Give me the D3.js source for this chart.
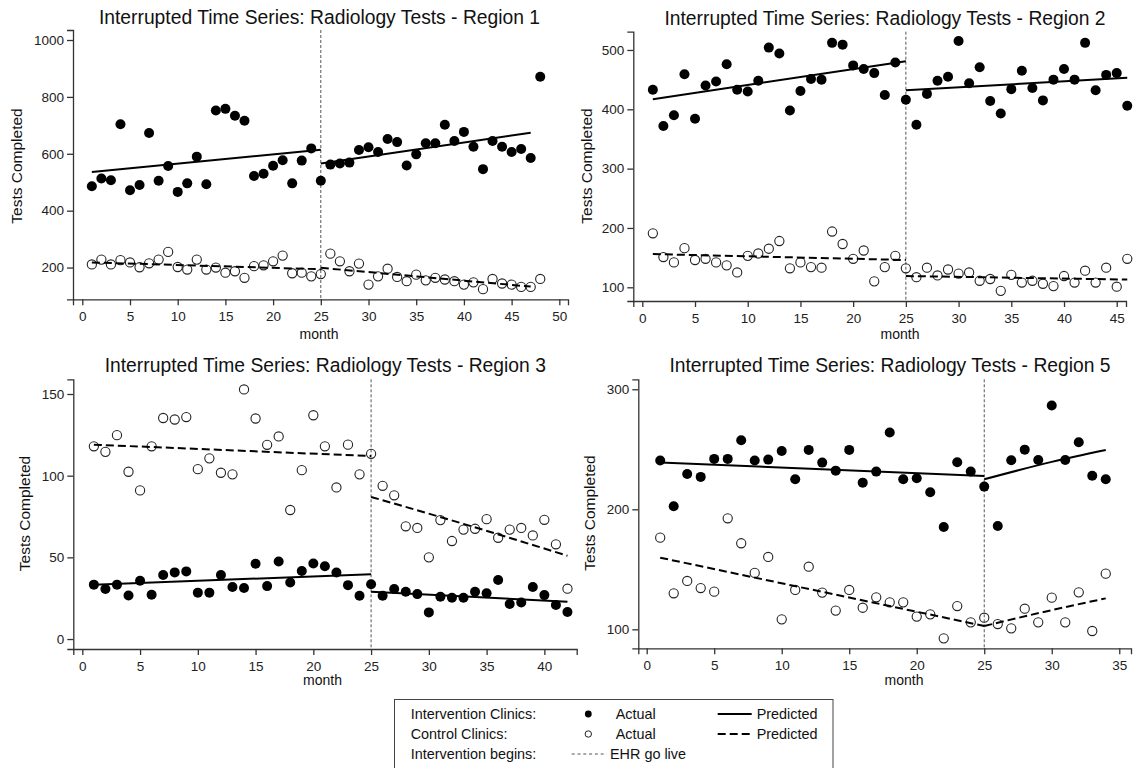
<!DOCTYPE html>
<html>
<head>
<meta charset="utf-8">
<script src="https://cdn.jsdelivr.net/npm/d3@7"></script>
<style>
  html, body { margin: 0; padding: 0; background: #fff; }
  svg { display: block; font-family: "Liberation Sans", Arial, sans-serif; }
</style>
</head>
<body>
<svg id="chart" width="1135" height="768"></svg>
<script>
// ---------------- DATA ----------------
const interventionMonth = 25;

// Region 1 (months 1..48)
const r1Intervention = [486,513,507,704,472,490,673,505,557,466,496,590,493,752,758,734,716,522,530,558,577,496,576,619,505,562,566,569,613,623,606,652,641,559,598,637,637,702,645,677,625,546,645,625,606,617,585,871];
const r1Control = [211,228,211,226,218,201,215,228,255,202,193,228,193,200,182,187,164,205,208,222,242,180,182,169,177,249,222,187,214,140,169,196,167,152,175,155,164,158,152,140,148,124,160,144,140,132,132,160];
const r1PredIntervention = [[[1,536],[25,614]], [[25,566],[47,674]]];
const r1PredControl = [[[1,218],[25,194]], [[25,199],[47,133]]];
const r1XTicks = [0,5,10,15,20,25,30,35,40,45,50];
const r1YTicks = [200,400,600,800,1000];

// Region 2 (months 1..46)
const r2Intervention = [433,372,390,459,384,440,447,476,433,430,448,504,494,398,431,451,450,512,509,474,468,461,424,479,416,374,426,448,455,515,444,471,414,393,434,465,436,415,450,468,450,512,432,458,461,406];
const r2Control = [191,151,142,166,146,148,142,137,125,153,157,165,178,132,142,134,133,194,173,148,162,110,134,153,132,117,133,120,130,123,125,111,114,94,121,108,111,106,102,119,108,128,108,133,101,148];
const r2PredIntervention = [[[1,417],[25,481]], [[25,432],[46,453]]];
const r2PredControl = [[[1,156],[25,146]], [[25,119],[46,113]]];
const r2XTicks = [0,5,10,15,20,25,30,35,40,45];
const r2YTicks = [100,200,300,400,500];

// Region 3 (months 1..42)
const r3Intervention = [33.3,30.6,33.3,26.7,35.7,27.1,39.2,40.8,41.4,28.4,28.4,39.2,31.8,31.2,46.1,32.4,47.5,34.6,41.6,46.2,44.6,40.7,33,26.5,33.5,26.5,30.6,29,27.5,16.3,25.9,25.3,25.3,29,28,36.1,21.4,22.4,31.8,26.9,20.8,16.5];
const r3Control = [118,114.6,124.8,102.4,91,118,135.3,134.4,135.9,104,110.6,101.8,100.8,152.8,135,118.9,124,79,103.4,137,118,92.8,119,100.8,113.4,93.8,88,69,68,50,72.8,60,67,67.5,73.4,62,67,68,63.4,73,58,30.8];
const r3PredIntervention = [[[1,33.3],[25,39.6]], [[25,29],[42,22.8]]];
const r3PredControl = [[[1,119],[25,112]], [[25,87],[33,70.5],[42,51]]];
const r3XTicks = [0,5,10,15,20,25,30,35,40];
const r3YTicks = [0,50,100,150];

// Region 5 (months 1..34)
const r5Intervention = [240.6,202.5,229.4,227,242,242,257.5,240.6,241.4,248.6,225,249.5,238.9,232.2,249.5,222.2,231.4,264,225,225.8,214.2,185.3,239.2,231.4,218.9,186.1,240.8,249.7,241.1,286.4,241.1,255.8,228,225];
const r5Control = [176.4,130,140.3,134.4,131.4,192.5,171.7,147,160.3,108.3,132.8,152.2,130.6,115.6,132.8,118,126.7,122.5,122.5,110.6,112.5,92.5,119.4,105.8,109.7,104.4,100.8,117.2,105.8,126.4,105.8,130.8,98.6,146.4];
const r5PredIntervention = [[[1,238.9],[25,227.8]], [[25,225],[30,239.5],[34,249.4]]];
const r5PredControl = [[[1,159.7],[25,102.8]], [[25,102.8],[30,116],[34,125.8]]];
const r5XTicks = [0,5,10,15,20,25,30,35];
const r5YTicks = [100,200,300];

const titles = [
  "Interrupted Time Series: Radiology Tests - Region 1",
  "Interrupted Time Series: Radiology Tests - Region 2",
  "Interrupted Time Series: Radiology Tests - Region 3",
  "Interrupted Time Series: Radiology Tests - Region 5"
];
const yLabel = "Tests Completed";
const xLabel = "month";

// ---------------- LAYOUT ----------------
const panels = [
  { title: titles[0], inter: r1Intervention, ctrl: r1Control, predI: r1PredIntervention, predC: r1PredControl,
    xTicks: r1XTicks, yTicks: r1YTicks, xDom: [-0.975, 50.91], yDom: [88.4, 1035.2],
    box: {l: 73, r: 568, t: 30, b: 299.3}, titleX: 319.5, titleY: 23.5, yLabX: 22, yLabY: 166, xLabX: 319, xLabY: 338.5 },
  { title: titles[1], inter: r2Intervention, ctrl: r2Control, predI: r2PredIntervention, predC: r2PredControl,
    xTicks: r2XTicks, yTicks: r2YTicks, xDom: [-0.854, 45.88], yDom: [76.9, 530.8],
    box: {l: 633.3, r: 1126, t: 31.7, b: 301}, titleX: 885, titleY: 25, yLabX: 592, yLabY: 166, xLabX: 900, xLabY: 339 },
  { title: titles[2], inter: r3Intervention, ctrl: r3Control, predI: r3PredIntervention, predC: r3PredControl,
    xTicks: r3XTicks, yTicks: r3YTicks, xDom: [-0.78, 42.8], yDom: [-6.1, 159],
    box: {l: 73.3, r: 576.7, t: 379.3, b: 649}, titleX: 325.3, titleY: 371.7, yLabX: 30, yLabY: 513.5, xLabX: 322.5, xLabY: 685 },
  { title: titles[3], inter: r5Intervention, ctrl: r5Control, predI: r5PredIntervention, predC: r5PredControl,
    xTicks: r5XTicks, yTicks: r5YTicks, xDom: [-0.622, 35.87], yDom: [84.2, 308.3],
    box: {l: 638.3, r: 1131, t: 379.3, b: 648.3}, titleX: 890, titleY: 371.7, yLabX: 595, yLabY: 513, xLabX: 904, xLabY: 685 }
];

const svg = d3.select("#chart");
const axisColor = "#333";

panels.forEach(p => {
  const x = d3.scaleLinear().domain(p.xDom).range([p.box.l, p.box.r]);
  const y = d3.scaleLinear().domain(p.yDom).range([p.box.b, p.box.t]);
  const g = svg.append("g");

  // title
  g.append("text").attr("x", p.titleX).attr("y", p.titleY)
    .attr("text-anchor", "middle").attr("font-size", "19.3px").attr("fill", "#111")
    .text(p.title);

  // y axis
  const ya = g.append("g").attr("transform", `translate(${p.box.l},0)`)
    .call(d3.axisLeft(y).tickValues(p.yTicks).tickSizeOuter(0).tickSize(6).tickPadding(3).tickFormat(d3.format("d")));
  // x axis
  const xa = g.append("g").attr("transform", `translate(0,${p.box.b})`)
    .call(d3.axisBottom(x).tickValues(p.xTicks).tickSizeOuter(0).tickSize(6).tickPadding(6).tickFormat(d3.format("d")));
  [ya, xa].forEach(a => {
    a.select(".domain").attr("stroke", axisColor).attr("stroke-width", 1.3);
    a.selectAll(".tick line").attr("stroke", axisColor).attr("stroke-width", 1.3);
    a.selectAll(".tick text").attr("fill", "#222").attr("font-size", "13.5px")
      .attr("font-family", "'Liberation Sans', Arial, sans-serif");
  });

  // axis labels
  g.append("text").attr("transform", `translate(${p.yLabX},${p.yLabY}) rotate(-90)`)
    .attr("text-anchor", "middle").attr("font-size", "15.5px").attr("fill", "#111").text(yLabel);
  g.append("text").attr("x", p.xLabX).attr("y", p.xLabY)
    .attr("text-anchor", "middle").attr("font-size", "14px").attr("fill", "#111").text(xLabel);

  // intervention begins line
  g.append("line").attr("x1", x(interventionMonth)).attr("x2", x(interventionMonth))
    .attr("y1", p.box.t).attr("y2", p.box.b)
    .attr("stroke", "#555").attr("stroke-width", 1).attr("stroke-dasharray", "3,2");

  // points
  g.selectAll("circle.ctrl").data(p.ctrl).join("circle").attr("class", "ctrl")
    .attr("cx", (d, i) => x(i + 1)).attr("cy", d => y(d)).attr("r", 4.6)
    .attr("fill", "none").attr("stroke", "#222").attr("stroke-width", 1.1);
  g.selectAll("circle.inter").data(p.inter).join("circle").attr("class", "inter")
    .attr("cx", (d, i) => x(i + 1)).attr("cy", d => y(d)).attr("r", 5)
    .attr("fill", "#000");

  // predicted lines
  const line = d3.line().x(d => x(d[0])).y(d => y(d[1])).curve(d3.curveMonotoneX);
  p.predI.forEach(seg => {
    g.append("path").attr("d", line(seg)).attr("fill", "none")
      .attr("stroke", "#000").attr("stroke-width", 2);
  });
  p.predC.forEach(seg => {
    g.append("path").attr("d", line(seg)).attr("fill", "none")
      .attr("stroke", "#000").attr("stroke-width", 2).attr("stroke-dasharray", "8,4");
  });
});

// ---------------- LEGEND ----------------
const legendRows = ["Intervention Clinics:", "Control Clinics:", "Intervention begins:"];
const lg = svg.append("g");
lg.append("rect").attr("x", 394.5).attr("y", 699.5).attr("width", 438.5).attr("height", 80)
  .attr("fill", "#fff").attr("stroke", "#444").attr("stroke-width", 1);
const rowY = [719, 739, 759];
legendRows.forEach((t, i) => {
  lg.append("text").attr("x", 410.7).attr("y", rowY[i]).attr("font-size", "14.4px").attr("fill", "#111").text(t);
});
lg.append("circle").attr("cx", 588.3).attr("cy", rowY[0] - 5).attr("r", 3.4).attr("fill", "#000");
lg.append("circle").attr("cx", 588.3).attr("cy", rowY[1] - 5).attr("r", 3.2).attr("fill", "none").attr("stroke", "#222").attr("stroke-width", 1);
lg.append("text").attr("x", 615.7).attr("y", rowY[0]).attr("font-size", "14.4px").attr("fill", "#111").text("Actual");
lg.append("text").attr("x", 615.7).attr("y", rowY[1]).attr("font-size", "14.4px").attr("fill", "#111").text("Actual");
lg.append("line").attr("x1", 717.7).attr("x2", 751.7).attr("y1", rowY[0] - 5).attr("y2", rowY[0] - 5)
  .attr("stroke", "#000").attr("stroke-width", 2);
lg.append("line").attr("x1", 717.7).attr("x2", 751.7).attr("y1", rowY[1] - 5).attr("y2", rowY[1] - 5)
  .attr("stroke", "#000").attr("stroke-width", 2).attr("stroke-dasharray", "8,4");
lg.append("text").attr("x", 756.7).attr("y", rowY[0]).attr("font-size", "14.4px").attr("fill", "#111").text("Predicted");
lg.append("text").attr("x", 756.7).attr("y", rowY[1]).attr("font-size", "14.4px").attr("fill", "#111").text("Predicted");
lg.append("line").attr("x1", 571.7).attr("x2", 606.7).attr("y1", rowY[2] - 5).attr("y2", rowY[2] - 5)
  .attr("stroke", "#555").attr("stroke-width", 1).attr("stroke-dasharray", "3,2.8");
lg.append("text").attr("x", 610).attr("y", rowY[2]).attr("font-size", "14.4px").attr("fill", "#111").text("EHR go live");
</script>
</body>
</html>
